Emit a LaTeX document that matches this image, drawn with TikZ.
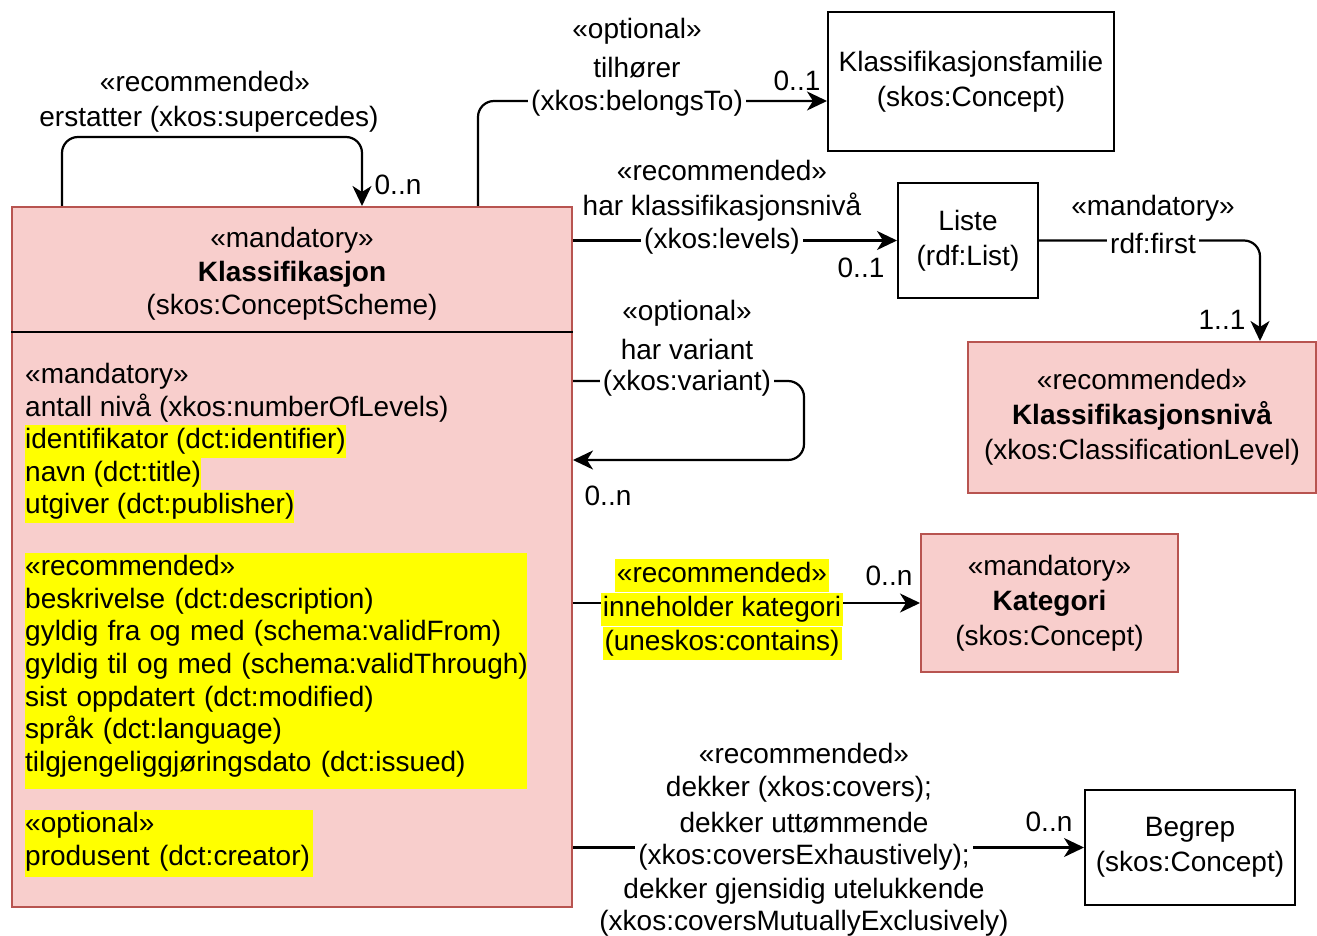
\documentclass[tikz,border=0pt]{standalone}
\usepackage{fontspec}
\setmainfont{Liberation Sans}
\usetikzlibrary{arrows.meta}

\definecolor{pinkfill}{HTML}{F8CECC}
\definecolor{pinkline}{HTML}{B85450}
\definecolor{hlyellow}{HTML}{FFFF00}

\tikzset{
  every node/.style={font=\fontsize{28}{32.7}\selectfont},
  pinkbox/.style={draw=pinkline, fill=pinkfill, line width=2pt, align=center, font=\fontsize{28}{35}\selectfont},
  whitebox/.style={draw=black, fill=white, line width=2pt, align=center, font=\fontsize{28}{35}\selectfont},
  link/.style={draw=black, line width=2.2pt, rounded corners=16pt, -{Stealth[length=20pt,width=19pt,inset=6pt]}},
  lbl/.style={inner sep=0pt, align=center},
  onlbl/.style={lbl, fill=white, inner xsep=3pt, inner ysep=1pt},
  hllbl/.style={fill=hlyellow, inner xsep=2pt, inner ysep=0pt, text height=21pt, text depth=7pt, minimum height=33pt},
  attr/.style={anchor=west, inner xsep=0pt, inner ysep=0pt, text height=21pt, text depth=7pt, minimum height=33pt},
  attrhl/.style={attr, fill=hlyellow},
  hlblock/.style={anchor=north west, fill=hlyellow, align=left, inner xsep=0pt, inner ysep=2pt},
}

\begin{document}
\begin{tikzpicture}[x=1pt,y=-1pt]
\useasboundingbox (0,0) rectangle (1317,936);

% classes
\node[pinkbox, minimum width=560pt, minimum height=700pt] (klass) at (292,557) {};
\draw[line width=2pt] (klass.west |- 0,332) -- (klass.east |- 0,332);
\node[lbl, font=\fontsize{28}{33.5}\selectfont] (klasshead) at (292,274) {«mandatory»\\\textbf{Klassifikasjon}\\(skos:ConceptScheme)};

\node[whitebox, minimum width=286pt, minimum height=139pt] (familie) at (971,81.5) {Klassifikasjonsfamilie\\(skos:Concept)};
\node[whitebox, minimum width=140pt, minimum height=115pt] (liste) at (968,240.5) {Liste\\(rdf:List)};
\node[pinkbox, minimum width=348pt, minimum height=151pt] (nivaa) at (1142,417.5) {«recommended»\\\textbf{Klassifikasjonsnivå}\\(xkos:ClassificationLevel)};
\node[pinkbox, minimum width=257pt, minimum height=138pt] (kategori) at (1049.5,603) {«mandatory»\\\textbf{Kategori}\\(skos:Concept)};
\node[whitebox, minimum width=210pt, minimum height=115pt] (begrep) at (1190,847.5) {Begrep\\(skos:Concept)};

% attributes
\node[attr] (mand) at (25,376) {«mandatory»};
\node[attr] (antall) at (25,409) {antall nivå (xkos:numberOfLevels)};
\node[attrhl] (ident) at (25,441) {identifikator (dct:identifier)\hspace{5pt}};
\node[attrhl] (navn) at (25,474) {navn (dct:title)};
\node[attrhl] (utgiver) at (25,506) {utgiver (dct:publisher)\hspace{5pt}};
\node[hlblock, text width=502pt] (recblock) at (25,553) {«recommended»\\beskrivelse (dct:description)\\gyldig fra og med (schema:validFrom)\\\mbox{gyldig til og med (schema:validThrough)}\\sist oppdatert (dct:modified)\\språk (dct:language)\\tilgjengeliggjøringsdato (dct:issued)\rule[-15pt]{0pt}{1pt}};
\node[hlblock, text width=288pt] (optblock) at (25,810) {«optional»\\\mbox{produsent (dct:creator)}\rule[-10pt]{0pt}{1pt}};

% erstatter
\draw[link] (klass.north -| 62,0) -- (62,137) -| (klass.north -| 362,0);
\node[lbl] (superst) at (205,81) {«recommended»};
\node[lbl] (supername) at (209,119) {erstatter (xkos:supercedes)};
\node[lbl] (supermult) at (398,185) {0..n};

% tilhører
\draw[link] (klass.north -| 478,0) |- (familie.west |- 0,101);
\node[lbl] (belongst) at (637,31) {«optional»};
\node[lbl] (belongname) at (637,68) {tilhører};
\node[onlbl] (belongprop) at (637,103) {(xkos:belongsTo)};
\node[lbl] (belongmult) at (797,81) {0..1};

% har klassifikasjonsnivå
\draw[link] (klass.east |- liste.west) -- (liste.west);
\node[lbl] (levelsst) at (722,170) {«recommended»};
\node[lbl] (levelsname) at (722,207) {har klassifikasjonsnivå};
\node[onlbl] (levelsprop) at (722,241) {(xkos:levels)};
\node[lbl] (levelsmult) at (861,268) {0..1};

% rdf:first
\draw[link] (liste.east) -| (nivaa.north -| 1260,0);
\node[lbl] (firstst) at (1153,208) {«mandatory»};
\node[onlbl] (firstprop) at (1153,243) {rdf:first};
\node[lbl] (firstmult) at (1222,320) {1..1};

% har variant
\draw[link] (klass.east |- 0,381) -- (804,381) |- (klass.east |- 0,460);
\node[lbl] (variantst) at (687,313) {«optional»};
\node[lbl] (variantname) at (687,349) {har variant};
\node[onlbl] (variantprop) at (687,383) {(xkos:variant)};
\node[lbl] (variantmult) at (608,496) {0..n};

% inneholder kategori
\draw[link] (klass.east |- kategori.west) -- (kategori.west);
\node[hllbl] (containsst) at (722,575) {«recommended»};
\node[hllbl] (containsname) at (722,609) {inneholder kategori};
\node[hllbl] (containsprop) at (722,643) {(uneskos:contains)};
\node[lbl] (containsmult) at (889,576) {0..n};

% dekker
\draw[link] (klass.east |- begrep.west) -- (begrep.west);
\node[lbl] (coversst) at (804,753) {«recommended»};
\node[lbl] (coversa) at (799,789) {dekker (xkos:covers);};
\node[lbl] (coversb) at (804,823) {dekker uttømmende};
\node[onlbl] (coversc) at (804,857) {(xkos:coversExhaustively);};
\node[lbl] (coversd) at (804,891) {dekker gjensidig utelukkende};
\node[lbl] (coverse) at (804,923) {(xkos:coversMutuallyExclusively)};
\node[lbl] (coversmult) at (1049,822) {0..n};
\end{tikzpicture}
\end{document}
